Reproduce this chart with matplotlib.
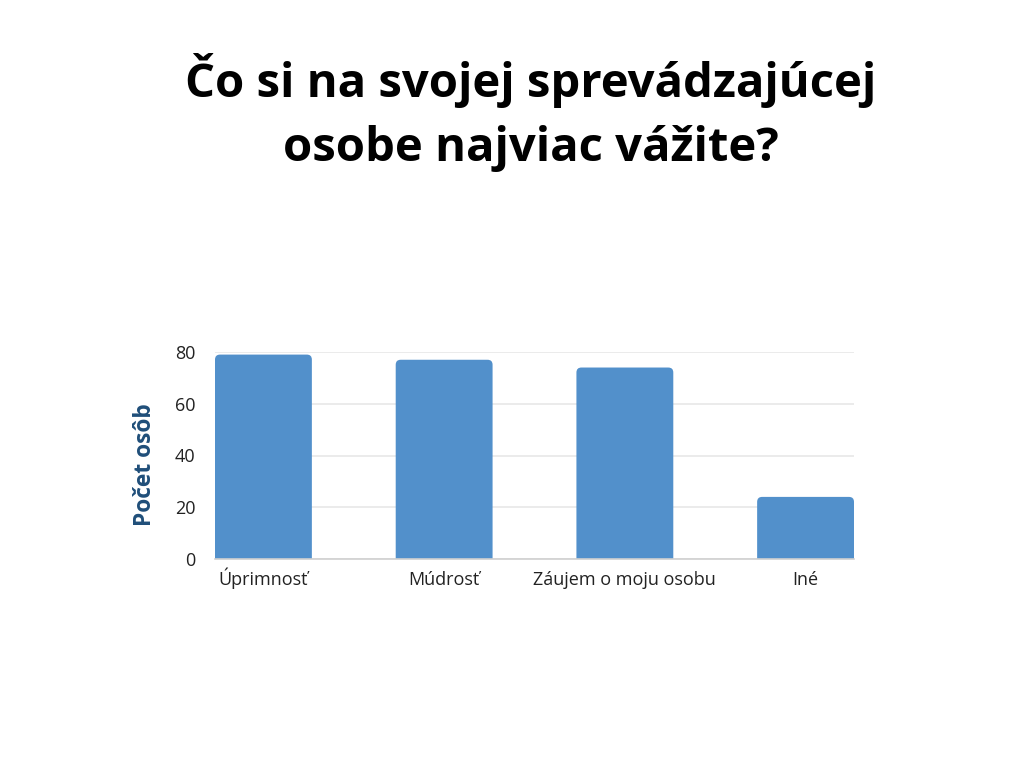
import matplotlib
matplotlib.use("Agg")
import matplotlib.pyplot as plt
from matplotlib.patches import FancyBboxPatch
import numpy as np

plt.rcParams['font.family'] = ['Open Sans', 'DejaVu Sans']

# data
categories = ["Úprimnosť", "Múdrosť", "Záujem o moju osobu", "Iné"]
counts = [79, 77, 74, 24]
yticks = [0, 20, 40, 60, 80]

title_lines = ["Čo si na svojej sprevádzajúcej", "osobe najviac vážite?"]
ylabel = "Počet osôb"

bar_color = "#5290cb"
bar_width = 0.536

fig = plt.figure(figsize=(10.24, 7.68), dpi=100)
fig.patch.set_facecolor("white")

# axes placed so the plot area sits where the reference has it
ax = fig.add_axes([215/1024, 1 - 559/768, (854 - 215)/1024, (559 - 352)/768])

x = np.arange(len(categories))
ax.set_xlim(-bar_width/2, len(categories) - 1 + bar_width/2)
ax.set_ylim(0, 80)

# bars with slightly rounded tops; bottom runs below 0 and is clipped
px_x = 639 / (ax.get_xlim()[1] - ax.get_xlim()[0])
px_y = 207 / 80
for xi, v in zip(x, counts):
    p = FancyBboxPatch((xi - bar_width/2, -4), bar_width, v + 4,
                       boxstyle="round,pad=0,rounding_size=%f" % (5/px_x),
                       mutation_aspect=px_x/px_y,
                       facecolor=bar_color, edgecolor="none", zorder=3)
    ax.add_patch(p)

ax.set_yticks(yticks)
ax.set_xticks(x)
ax.set_xticklabels(categories, fontsize=13, color="#222222")
for lab in ax.get_xticklabels():
    lab.set_va("baseline")
ax.tick_params(axis="y", labelsize=13, colors="#222222", length=0, pad=14)
ax.tick_params(axis="x", length=0, pad=18.5)

ax.grid(axis="y", color="#e8e8e8", linewidth=1.2, zorder=0)
for side in ["top", "right", "left"]:
    ax.spines[side].set_visible(False)
ax.spines["bottom"].set_color("#d0d0d0")
ax.spines["bottom"].set_linewidth(1.2)
ax.spines["bottom"].set_zorder(4)

fig.text(145/1024, 1 - 465/768, ylabel, rotation=90, ha="center", va="center",
         fontsize=16.4, fontweight="bold", color="#1f4e79")

fig.text(531/1024, 1 - 80/768, title_lines[0], ha="center", va="center",
         fontsize=34, fontweight="bold", color="black")
fig.text(531/1024, 1 - 148/768, title_lines[1], ha="center", va="center",
         fontsize=34, fontweight="bold", color="black")

fig.savefig("out.png", dpi=100)
